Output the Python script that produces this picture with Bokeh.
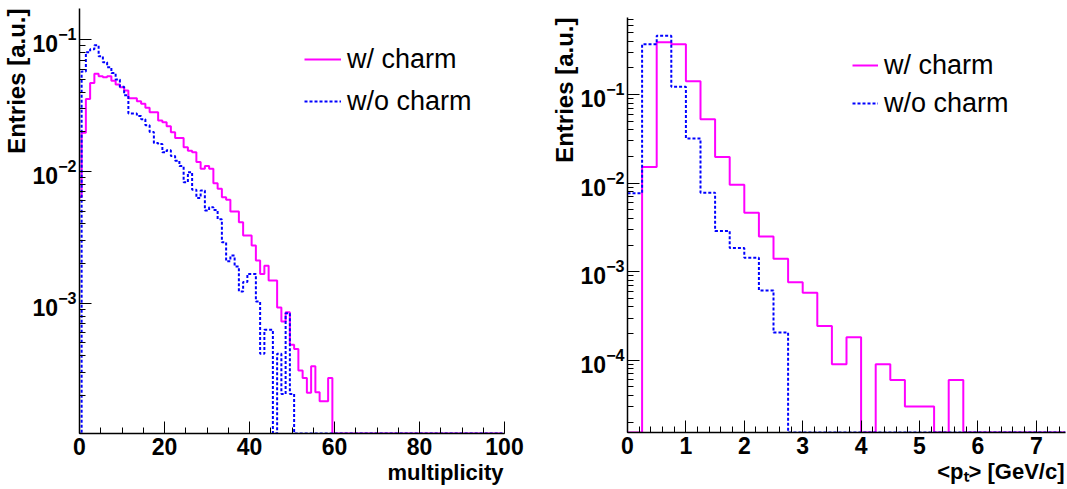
import numpy as np
from bokeh.plotting import figure
from bokeh.layouts import row, column
from bokeh.models import (Range1d, LogTicker, LogTickFormatter, SingleIntervalTicker,
                          Title, Legend, LegendItem, Spacer)
from bokeh.embed import file_html
from bokeh.resources import INLINE

# ---------------- data ----------------
# multiplicity histogram: integer bins [k-0.5, k+0.5), k = 0..99
mult_bin_centers = list(range(100))
mult_with_charm = [
    0.0064, 0.0197, 0.0356, 0.0471, 0.0552, 0.053, 0.052, 0.053, 0.049, 0.0458,
    0.0437, 0.0412, 0.036, 0.036, 0.0342, 0.0327, 0.0305, 0.0282, 0.0282, 0.0244,
    0.0237, 0.0221, 0.0199, 0.018, 0.018, 0.0153, 0.0144, 0.0140, 0.0118, 0.0105,
    0.011, 0.0105, 0.00815, 0.0074, 0.00638, 0.0061, 0.00497, 0.00497, 0.00412, 0.00327,
    0.00327, 0.00274, 0.00211, 0.00167, 0.00193, 0.00149, 0.00149, 0.00093, 0.000726, 0.000855,
    0.000485, 0.00045, 0.000308, 0.000271, 0.000209, 0.000332, 0.000211, 0.00018, 0.00018, 0.000271,
] + [0.0] * 40
mult_without_charm = [
    0.0, 0.0575, 0.0805, 0.085, 0.091, 0.075, 0.0676, 0.062, 0.056, 0.050,
    0.044, 0.038, 0.0276, 0.0276, 0.0264, 0.025, 0.0225, 0.0200, 0.0165, 0.0162,
    0.0140, 0.0145, 0.0131, 0.0121, 0.0110, 0.0083, 0.0099, 0.00727, 0.0063, 0.00718,
    0.00506, 0.00536, 0.0051, 0.00435, 0.0029, 0.00208, 0.0023, 0.0019, 0.00123, 0.00145,
    0.00167, 0.00167, 0.00103, 0.000413, 0.00063, 0.00063, 0.0, 0.000413, 0.000205, 0.00084,
    0.000205,
] + [0.0] * 49

# <pt> histogram: bins of 0.25 GeV/c from 0 to 7.5
pt_bin_low = [i * 0.25 for i in range(30)]
pt_with_charm = [
    0.0, 0.0152, 0.39, 0.37, 0.141, 0.0526, 0.0197, 0.0096, 0.00464, 0.0025,
    0.0014, 0.00076, 0.00058, 0.000243, 0.00009, 0.000182, 0.0, 0.00009, 0.00006, 0.00003,
    0.00003, 0.0, 0.00006, 0.0, 0.0, 0.0, 0.0, 0.0, 0.0, 0.0,
]
pt_without_charm = [
    0.0077, 0.37, 0.46, 0.122, 0.0319, 0.0078, 0.00288, 0.00185, 0.00144, 0.000615,
    0.000206, 0.0, 0.0, 0.0, 0.0, 0.0, 0.0, 0.0, 0.0, 0.0,
    0.0, 0.0, 0.0, 0.0, 0.0, 0.0, 0.0, 0.0, 0.0, 0.0,
]

series_labels = ["w/ charm", "w/o charm"]
y_title = "Entries [a.u.]"
x_title_left = "multiplicity"
x_title_right = "<p\u209c> [GeV/c]"

MAGENTA = "#ff00ff"
BLUE = "#0000ff"
FONT = "Liberation Sans"


def outline(edges, vals, floor):
    v = np.asarray(vals, dtype=float)
    v = np.where(v > 0, v, floor)
    return np.asarray(edges, dtype=float), np.append(v, v[-1])


def style(p, x_interval, x_minor):
    p.outline_line_color = None
    p.xgrid.visible = False
    p.ygrid.visible = False
    p.background_fill_color = "white"
    p.border_fill_color = "white"
    p.xaxis.ticker = SingleIntervalTicker(interval=x_interval, num_minor_ticks=x_minor)
    p.yaxis.ticker = LogTicker(num_minor_ticks=10)
    p.yaxis.formatter = LogTickFormatter()
    for ax in p.xaxis + p.yaxis:
        ax.axis_line_color = "black"
        ax.axis_line_width = 1.5
        ax.major_tick_in = 12
        ax.major_tick_out = 0
        ax.minor_tick_in = 6
        ax.minor_tick_out = 0
        ax.major_tick_line_color = "black"
        ax.minor_tick_line_color = "black"
        ax.major_label_text_font = FONT
        ax.major_label_text_font_style = "bold"
        ax.major_label_text_font_size = "23px"
        ax.major_label_text_color = "black"
    p.xaxis.major_label_standoff = 4
    p.yaxis.major_label_standoff = 3


def panel(edges, with_vals, without_vals, xr, yr, xtitle, x_interval, x_minor,
          fw, fh, mbl, mbr, mbt, mbb, leg_loc, glyph_w, leg_h):
    p = figure(frame_width=fw, frame_height=fh, x_range=Range1d(*xr),
               y_range=Range1d(*yr), y_axis_type="log", output_backend="svg",
               toolbar_location=None, min_border_left=mbl, min_border_right=mbr,
               min_border_top=mbt, min_border_bottom=mbb)
    style(p, x_interval, x_minor)
    xs, ys = outline(edges, with_vals, yr[0])
    r1 = p.step(xs, ys, mode="after", line_color=MAGENTA, line_width=2)
    xs, ys = outline(edges, without_vals, yr[0])
    r2 = p.step(xs, ys, mode="after", line_color=BLUE, line_width=2, line_dash="3 2")
    leg = Legend(items=[LegendItem(label=series_labels[0], renderers=[r1]),
                        LegendItem(label=series_labels[1], renderers=[r2])],
                 location=leg_loc, glyph_width=glyph_w, glyph_height=leg_h,
                 label_height=leg_h, spacing=0, padding=0, margin=0,
                 border_line_color=None, background_fill_alpha=0,
                 label_text_font=FONT, label_text_font_size="27px",
                 label_text_color="black", label_standoff=6)
    p.add_layout(leg)
    # axis titles, right-aligned to the axis ends as in ROOT
    p.add_layout(Title(text=y_title, align="right", text_font=FONT,
                       text_font_style="bold", text_font_size="24px",
                       text_color="black", standoff=0, offset=0), "left")
    p.add_layout(Title(text=xtitle, align="right", text_font=FONT,
                       text_font_style="bold", text_font_size="22px",
                       text_color="black", standoff=0, offset=1), "below")
    return p


mult_edges = np.append(np.asarray(mult_bin_centers, float) - 0.5, mult_bin_centers[-1] + 0.5)
pt_edges = np.append(np.asarray(pt_bin_low, float), pt_bin_low[-1] + 0.25)

p1 = panel(mult_edges, mult_with_charm, mult_without_charm, (0, 100), (1.026e-4, 0.173),
           x_title_left, 20, 4, 425, 425, 78, 42, 8, 56, (225, 311), 37, 42)
p2 = panel(pt_edges, pt_with_charm, pt_without_charm, (0, 7.5), (1.53e-5, 0.74),
           x_title_right, 1, 5, 438, 415, 81, 3, 8, 57, (225, 310), 26, 38)

layout = row(p1, column(Spacer(height=9, width=1), p2))
open("out.html", "w").write(file_html(layout, INLINE))
